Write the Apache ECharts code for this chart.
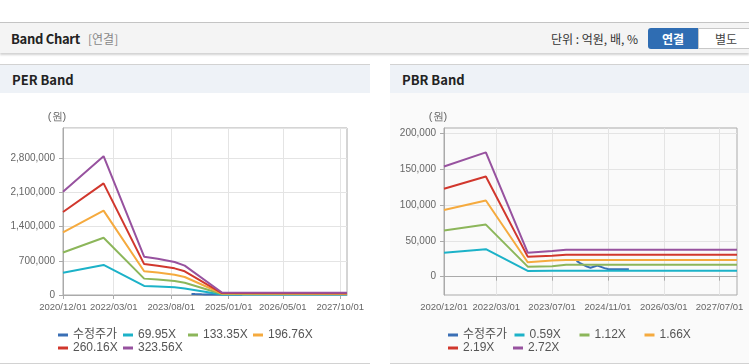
<!DOCTYPE html>
<html>
<head>
<meta charset="utf-8">
<script src="https://cdn.jsdelivr.net/npm/echarts@6/dist/echarts.min.js"></script>
<style>
  body { margin: 0; width: 749px; height: 364px; position: relative; overflow: hidden; background: #fff;
         font-family: "Noto Sans CJK KR", "Liberation Sans", sans-serif; }
  .topbar { position: absolute; left: 0; top: 22px; width: 749px; height: 30px; background: #f4f4f4;
            border-top: 1px solid #c4c4c4; box-shadow: 0 2px 2px rgba(0,0,0,0.18); }
  .title { position: absolute; left: 11px; top: 6px; font-size: 13px; font-weight: bold; color: #222; letter-spacing: -0.3px; }
  .sub { position: absolute; left: 88px; top: 7px; font-size: 12px; color: #888; }
  .unit { position: absolute; left: 551px; top: 7px; font-size: 12px; color: #333; }
  .btn1 { position: absolute; left: 648px; top: 5px; width: 50px; height: 21px; background: #2f6db3;
          border-radius: 3px 0 0 3px; color: #fff; font-size: 12px; font-weight: bold; text-align: center; line-height: 21px; }
  .btn2 { position: absolute; left: 698px; top: 5px; width: 54px; height: 19px; background: #fff; border: 1px solid #c8c8c8;
          color: #444; font-size: 12px; text-align: center; line-height: 19px; }
  .panel { position: absolute; top: 64px; height: 298px; border-top: 1px solid #d2d2d2; border-bottom: 1px solid #d2d2d2; }
  .phead { height: 28px; background: #eef2f7; font-size: 13px; font-weight: bold; color: #222; padding-left: 12px; line-height: 30px; }
  #chart { position: absolute; left: 0; top: 0; width: 749px; height: 364px; }
</style>
</head>
<body>
<div class="topbar">
  <div class="title">Band Chart</div>
  <div class="sub">[연결]</div>
  <div class="unit">단위 : 억원, 배, %</div>
  <div class="btn1">연결</div>
  <div class="btn2">별도</div>
</div>
<div class="panel" style="left:0;width:370px;background:#fff;"><div class="phead">PER Band</div></div>
<div class="panel" style="left:390px;width:359px;background:#fafafa;"><div class="phead">PBR Band</div></div>
<div id="chart"></div>
<script>
// monthly categories 2020/12 .. 2027/12
var months = []
for (var y = 2020, m = 12; y < 2028; ) {
    months.push(y + '/' + (m < 10 ? '0' + m : m) + '/01')
    m++
    if (m > 12) { m = 1; y++ }
    if (y === 2028) break
}

var perTickLabels = ['2020/12/01', '2022/03/01', '2023/08/01', '2025/01/01', '2026/05/01', '2027/10/01']
var pbrTickLabels = ['2020/12/01', '2022/03/01', '2023/07/01', '2024/11/01', '2026/03/01', '2027/07/01']

// 수정주가
var priceDates = ['2024/02/01', '2024/03/01', '2024/05/01', '2024/06/01', '2024/08/01', '2024/10/01', '2024/11/01', '2025/05/01']
var priceValues = [22000, 19000, 14000, 12500, 15500, 12000, 10800, 10300]

// PER band
var perDates = ['2020/12/01', '2021/12/01', '2022/12/01', '2023/04/01', '2023/09/01', '2023/12/01', '2024/11/01', '2027/12/01']
var per6995 = [456000, 614000, 185000, 175000, 158000, 135000, 11000, 10000]
var per13335 = [870000, 1170000, 335000, 315000, 285000, 250000, 21000, 19000]
var per19676 = [1283000, 1727000, 485000, 458000, 415000, 368000, 30000, 27000]
var per26016 = [1697000, 2284000, 632000, 598000, 545000, 485000, 40000, 36000]
var per32356 = [2110000, 2840000, 784000, 743000, 674000, 600000, 50000, 45000]

// PBR band
var pbrDates = ['2020/12/01', '2021/12/01', '2022/12/01', '2023/07/01', '2023/11/01', '2027/12/01']
var pbr059 = [33600, 38400, 8000, 8200, 8200, 8200]
var pbr112 = [64400, 72800, 14000, 14500, 16800, 16800]
var pbr166 = [93100, 106500, 20200, 22500, 23400, 23400]
var pbr219 = [122800, 140000, 28000, 29400, 30800, 30800]
var pbr272 = [154000, 173700, 33600, 36000, 37800, 37800]

var colors = ['#3a6fb5', '#1cb2c8', '#8cb65a', '#f5aa3e', '#d1372d', '#97529f']

function pairs(dates, vals) {
    return dates.map(function (d, i) { return [d, vals[i]] })
}

function lineSeries(name, data, color, xi) {
    return {
        name: name, type: 'line', xAxisIndex: xi, yAxisIndex: xi,
        data: data, symbol: 'none', smooth: false,
        lineStyle: { color: color, width: 2 }, itemStyle: { color: color },
        emphasis: { disabled: true }
    }
}

var labelFont = '"Liberation Sans", sans-serif'

function xAxisOf(gi, ticks) {
    var show = function (index, value) { return ticks.indexOf(value) >= 0 }
    return {
        type: 'category', gridIndex: gi, data: months, boundaryGap: false,
        axisLine: { lineStyle: { color: '#aaaaaa' } },
        axisTick: { show: true, length: 4, interval: show, lineStyle: { color: '#aaaaaa' } },
        axisLabel: { interval: show, color: '#666', fontSize: 9.5, margin: 7, hideOverlap: false,
            showMinLabel: true, showMaxLabel: true, fontFamily: labelFont },
        splitLine: { show: true, interval: show, lineStyle: { color: '#e4e4e4' } }
    }
}

var fmt = function (v) { return Math.round(v).toLocaleString('en-US') }

var legendBase = {
    orient: 'horizontal', icon: 'rect', itemWidth: 10, itemHeight: 3, itemGap: 4,
    textStyle: { color: '#555', fontSize: 12, width: 46, lineHeight: 12,
        fontFamily: '"Liberation Sans", "Noto Sans CJK KR", sans-serif' },
    selectedMode: false
}

var chart = echarts.init(document.getElementById('chart'))
var option = {
    animation: false,
    color: colors,
    grid: [
        { left: 63, top: 128, width: 284, height: 167, show: true, borderColor: '#aaaaaa', backgroundColor: 'transparent' },
        { left: 444, top: 128, width: 293, height: 167, show: true, borderColor: '#aaaaaa', backgroundColor: 'transparent' }
    ],
    xAxis: [xAxisOf(0, perTickLabels), xAxisOf(1, pbrTickLabels)],
    yAxis: [
        {
            type: 'value', gridIndex: 0, min: 0, max: 3416000, interval: 700000,
            name: '(원)', nameLocation: 'end', nameGap: 6,
            nameTextStyle: { color: '#666', fontSize: 11, align: 'center', padding: [0, 12, 0, 0] },
            axisLine: { show: true, lineStyle: { color: '#aaaaaa' } },
            axisTick: { show: true, length: 4, lineStyle: { color: '#aaaaaa' } },
            axisLabel: { color: '#666', fontSize: 10, margin: 8, showMaxLabel: false, formatter: fmt, fontFamily: labelFont },
            splitLine: { lineStyle: { color: '#e4e4e4' } }
        },
        {
            type: 'value', gridIndex: 1, min: -25600, max: 207800,
            name: '(원)', nameLocation: 'end', nameGap: 6,
            nameTextStyle: { color: '#666', fontSize: 11, align: 'center', padding: [0, 12, 0, 0] },
            axisLine: { show: true, lineStyle: { color: '#aaaaaa' } },
            axisTick: { show: true, length: 4, customValues: [0, 50000, 100000, 150000, 200000], lineStyle: { color: '#aaaaaa' } },
            axisLabel: { color: '#666', fontSize: 10, margin: 8, customValues: [0, 50000, 100000, 150000, 200000], formatter: fmt, fontFamily: labelFont },
            splitLine: { lineStyle: { color: '#e4e4e4' } }
        }
    ],
    legend: [
        Object.assign({}, legendBase, { left: 53, top: 324, data: ['수정주가', '69.95X', '133.35X', '196.76X'] }),
        Object.assign({}, legendBase, { left: 53, top: 337, data: ['260.16X', '323.56X'] }),
        Object.assign({}, legendBase, { left: 443, top: 324, data: ['수정주가 ', '0.59X', '1.12X', '1.66X'] }),
        Object.assign({}, legendBase, { left: 443, top: 337, data: ['2.19X', '2.72X'] })
    ],
    series: [
        lineSeries('수정주가', pairs(priceDates, priceValues), colors[0], 0),
        lineSeries('69.95X', pairs(perDates, per6995), colors[1], 0),
        lineSeries('133.35X', pairs(perDates, per13335), colors[2], 0),
        lineSeries('196.76X', pairs(perDates, per19676), colors[3], 0),
        lineSeries('260.16X', pairs(perDates, per26016), colors[4], 0),
        lineSeries('323.56X', pairs(perDates, per32356), colors[5], 0),
        lineSeries('수정주가 ', pairs(priceDates, priceValues), colors[0], 1),
        lineSeries('0.59X', pairs(pbrDates, pbr059), colors[1], 1),
        lineSeries('1.12X', pairs(pbrDates, pbr112), colors[2], 1),
        lineSeries('1.66X', pairs(pbrDates, pbr166), colors[3], 1),
        lineSeries('2.19X', pairs(pbrDates, pbr219), colors[4], 1),
        lineSeries('2.72X', pairs(pbrDates, pbr272), colors[5], 1)
    ]
}
chart.setOption(option)
</script>
</body>
</html>
